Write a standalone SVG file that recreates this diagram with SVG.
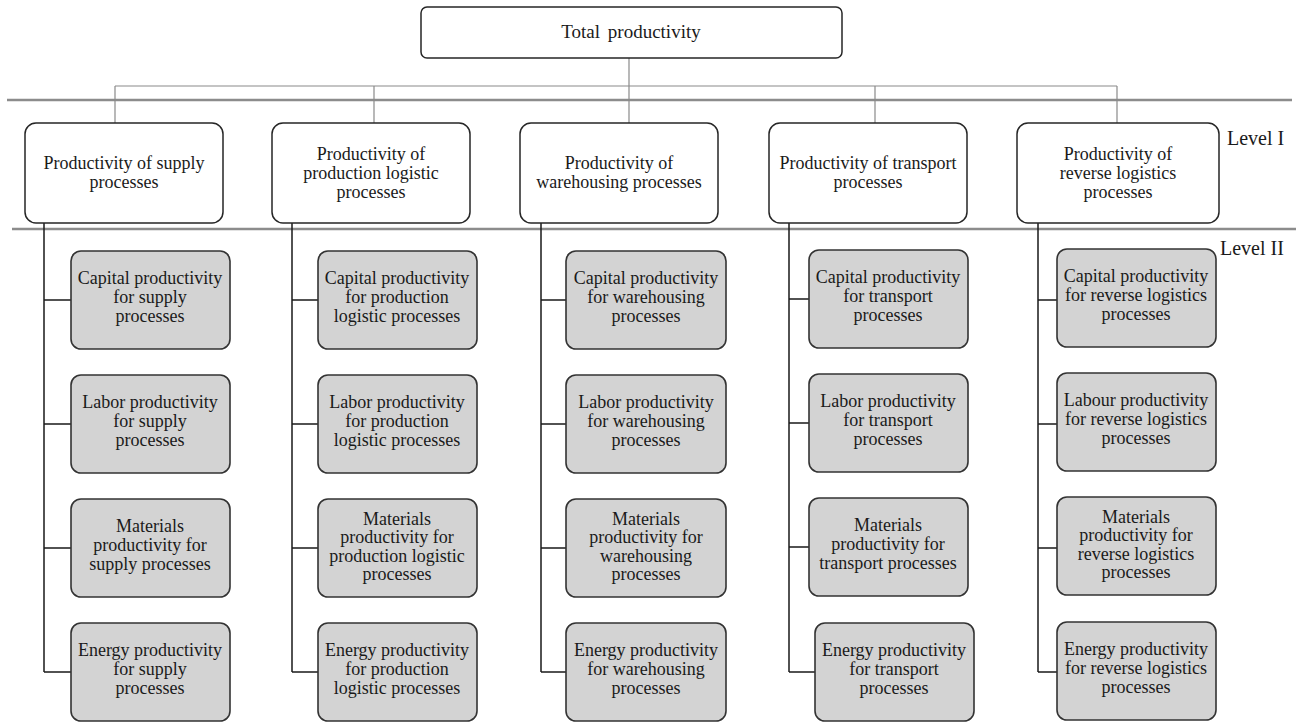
<svg xmlns="http://www.w3.org/2000/svg" width="1301" height="722" viewBox="0 0 1301 722">
<style>
text{font-family:"Liberation Serif","Times New Roman",serif;font-size:18px;fill:#1a1a1a;text-anchor:middle}
.lvl{font-size:20px;text-anchor:start}
.top{font-size:19px;word-spacing:3px}
.b0{fill:#fff;stroke:#262626;stroke-width:1.5}
.b1{fill:#fff;stroke:#262626;stroke-width:1.5}
.b2{fill:#d3d3d3;stroke:#333;stroke-width:1.6}
.sep{stroke:#8c8c8c;stroke-width:2.5;fill:none}
.tree{stroke:#8a8a8a;stroke-width:1.2;fill:none}
.link{stroke:#1a1a1a;stroke-width:1.5;fill:none}
</style>
<rect width="1301" height="722" fill="#fff"/>
<g id="separators">
<line class="sep" x1="7" y1="100" x2="1292" y2="100"/>
<line class="sep" x1="12" y1="229" x2="1296" y2="229"/>
</g>
<g id="connectors">
<path class="tree" d="M629 58V123M115 86H1117M115 86V123M374 86V123M875 86V123M1117 86V123"/>
<path class="link" d="M44 223V672M44 300H71M44 424H71M44 548H71M44 672H71"/>
<path class="link" d="M292 223V672M292 300H318M292 424H318M292 548H318M292 672H318"/>
<path class="link" d="M541 223V672M541 300H566M541 424H566M541 548H566M541 672H566"/>
<path class="link" d="M789 223V672M789 299H809M789 423H809M789 547H809M789 672H815"/>
<path class="link" d="M1038 223V672M1038 300H1057M1038 424H1057M1038 548H1057M1038 672H1057"/>
</g>
<g id="levels">
<text class="lvl" x="1227" y="145">Level I</text>
<text class="lvl" x="1220" y="255">Level II</text>
</g>
<g id="total">
<rect class="b0" x="421" y="7" width="421" height="51" rx="6"/>
<text class="top" x="631" y="38">Total productivity</text>
</g>
<g id="l1-supply">
<rect class="b1" x="25" y="123" width="198" height="100" rx="11"/>
<text x="124" y="169">Productivity of supply</text>
<text x="124" y="188">processes</text>
</g>
<g id="l1-production">
<rect class="b1" x="272" y="123" width="198" height="100" rx="11"/>
<text x="371" y="160">Productivity of</text>
<text x="371" y="179">production logistic</text>
<text x="371" y="198">processes</text>
</g>
<g id="l1-warehousing">
<rect class="b1" x="520" y="123" width="198" height="100" rx="11"/>
<text x="619" y="169">Productivity of</text>
<text x="619" y="188">warehousing processes</text>
</g>
<g id="l1-transport">
<rect class="b1" x="769" y="123" width="198" height="100" rx="11"/>
<text x="868" y="169">Productivity of transport</text>
<text x="868" y="188">processes</text>
</g>
<g id="l1-reverse">
<rect class="b1" x="1017" y="123" width="202" height="100" rx="11"/>
<text x="1118" y="160">Productivity of</text>
<text x="1118" y="179">reverse logistics</text>
<text x="1118" y="198">processes</text>
</g>
<!-- column 1 -->
<g id="c1-capital"><rect class="b2" x="71" y="251" width="159" height="98" rx="10"/>
<text x="150" y="284">Capital productivity</text><text x="150" y="303">for supply</text><text x="150" y="322">processes</text></g>
<g id="c1-labor"><rect class="b2" x="71" y="375" width="159" height="98" rx="10"/>
<text x="150" y="408">Labor productivity</text><text x="150" y="427">for supply</text><text x="150" y="446">processes</text></g>
<g id="c1-materials"><rect class="b2" x="71" y="499" width="159" height="98" rx="10"/>
<text x="150" y="532">Materials</text><text x="150" y="551">productivity for</text><text x="150" y="570">supply processes</text></g>
<g id="c1-energy"><rect class="b2" x="71" y="623" width="159" height="98" rx="10"/>
<text x="150" y="656">Energy productivity</text><text x="150" y="675">for supply</text><text x="150" y="694">processes</text></g>
<!-- column 2 -->
<g id="c2-capital"><rect class="b2" x="318" y="251" width="159" height="98" rx="10"/>
<text x="397" y="284">Capital productivity</text><text x="397" y="303">for production</text><text x="397" y="322">logistic processes</text></g>
<g id="c2-labor"><rect class="b2" x="318" y="375" width="159" height="98" rx="10"/>
<text x="397" y="408">Labor productivity</text><text x="397" y="427">for production</text><text x="397" y="446">logistic processes</text></g>
<g id="c2-materials"><rect class="b2" x="318" y="499" width="159" height="98" rx="10"/>
<text x="397" y="525">Materials</text><text x="397" y="543">productivity for</text><text x="397" y="562">production logistic</text><text x="397" y="580">processes</text></g>
<g id="c2-energy"><rect class="b2" x="318" y="623" width="159" height="98" rx="10"/>
<text x="397" y="656">Energy productivity</text><text x="397" y="675">for production</text><text x="397" y="694">logistic processes</text></g>
<!-- column 3 -->
<g id="c3-capital"><rect class="b2" x="566" y="251" width="160" height="98" rx="10"/>
<text x="646" y="284">Capital productivity</text><text x="646" y="303">for warehousing</text><text x="646" y="322">processes</text></g>
<g id="c3-labor"><rect class="b2" x="566" y="375" width="160" height="98" rx="10"/>
<text x="646" y="408">Labor productivity</text><text x="646" y="427">for warehousing</text><text x="646" y="446">processes</text></g>
<g id="c3-materials"><rect class="b2" x="566" y="499" width="160" height="98" rx="10"/>
<text x="646" y="525">Materials</text><text x="646" y="543">productivity for</text><text x="646" y="562">warehousing</text><text x="646" y="580">processes</text></g>
<g id="c3-energy"><rect class="b2" x="566" y="623" width="160" height="98" rx="10"/>
<text x="646" y="656">Energy productivity</text><text x="646" y="675">for warehousing</text><text x="646" y="694">processes</text></g>
<!-- column 4 -->
<g id="c4-capital"><rect class="b2" x="809" y="250" width="159" height="98" rx="10"/>
<text x="888" y="283">Capital productivity</text><text x="888" y="302">for transport</text><text x="888" y="321">processes</text></g>
<g id="c4-labor"><rect class="b2" x="809" y="374" width="159" height="98" rx="10"/>
<text x="888" y="407">Labor productivity</text><text x="888" y="426">for transport</text><text x="888" y="445">processes</text></g>
<g id="c4-materials"><rect class="b2" x="809" y="498" width="159" height="98" rx="10"/>
<text x="888" y="531">Materials</text><text x="888" y="550">productivity for</text><text x="888" y="569">transport processes</text></g>
<g id="c4-energy"><rect class="b2" x="815" y="623" width="159" height="98" rx="10"/>
<text x="894" y="656">Energy productivity</text><text x="894" y="675">for transport</text><text x="894" y="694">processes</text></g>
<!-- column 5 -->
<g id="c5-capital"><rect class="b2" x="1057" y="249" width="159" height="98" rx="10"/>
<text x="1136" y="282">Capital productivity</text><text x="1136" y="301">for reverse logistics</text><text x="1136" y="320">processes</text></g>
<g id="c5-labour"><rect class="b2" x="1057" y="373" width="159" height="98" rx="10"/>
<text x="1136" y="406">Labour productivity</text><text x="1136" y="425">for reverse logistics</text><text x="1136" y="444">processes</text></g>
<g id="c5-materials"><rect class="b2" x="1057" y="497" width="159" height="98" rx="10"/>
<text x="1136" y="523">Materials</text><text x="1136" y="541">productivity for</text><text x="1136" y="560">reverse logistics</text><text x="1136" y="578">processes</text></g>
<g id="c5-energy"><rect class="b2" x="1057" y="622" width="159" height="98" rx="10"/>
<text x="1136" y="655">Energy productivity</text><text x="1136" y="674">for reverse logistics</text><text x="1136" y="693">processes</text></g>
</svg>
